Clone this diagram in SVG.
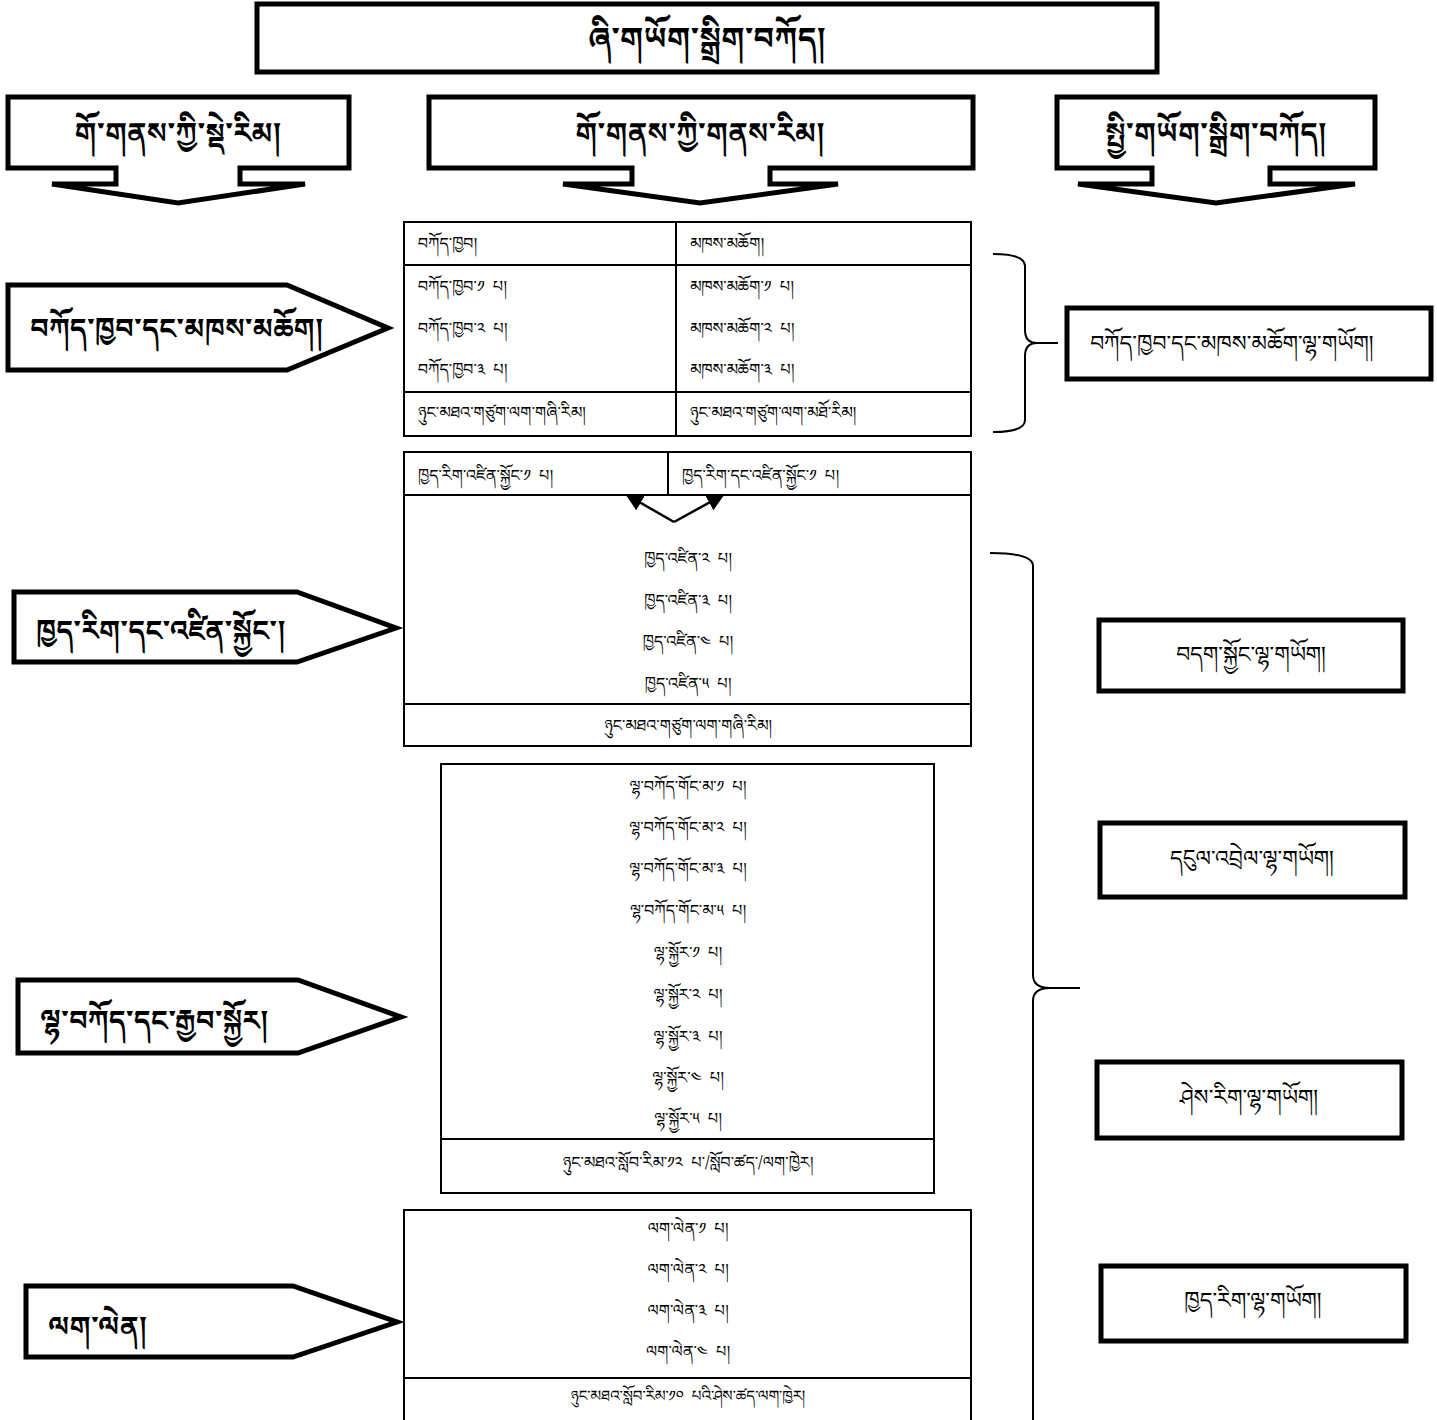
<svg xmlns="http://www.w3.org/2000/svg" width="1437" height="1420" viewBox="0 0 1437 1420">
<defs>
<style>
.bx{fill:#fff;stroke:#000;stroke-width:5}
.tb{fill:#fff;stroke:#000;stroke-width:2}
.ln{stroke:#000;stroke-width:2;fill:none}
.br{stroke:#000;stroke-width:2;fill:none}
text{font-family:"Noto Serif Tibetan","Noto Sans Tibetan","Jomolhari","Microsoft Himalaya","Noto Sans","DejaVu Sans",sans-serif;fill:#000;white-space:pre}
.t1{font-size:31px;font-weight:bold;text-anchor:middle}
.t2{font-size:29px;font-weight:bold;text-anchor:middle}
.t3{font-size:28px;font-weight:bold}
.t4{font-size:22px}
.t4c{font-size:22px;text-anchor:middle}
.s{font-size:16px}
.sc{font-size:16px;text-anchor:middle}
.sf{font-size:15px;text-anchor:middle}
</style>
<marker id="ah" viewBox="0 0 10 10" refX="9" refY="5" markerWidth="7" markerHeight="7" orient="auto-start-reverse">
<path d="M0,0 L10,5 L0,10 z" fill="#000"/>
</marker>
</defs>
<rect width="1437" height="1420" fill="#fff"/>

<g id="title">
<rect class="bx" x="257" y="4" width="900" height="68"/>
<text class="t1" x="707" y="49">ཞི་གཡོག་སྒྲིག་བཀོད།</text>
</g>

<g id="head-left">
<path class="bx" d="M8,97 H349 V168 H240 V184 H305 L178,203 L52,184 H116 V168 H8 Z"/>
<text class="t2" x="178" y="143">གོ་གནས་ཀྱི་སྡེ་རིམ།</text>
</g>
<g id="head-mid">
<path class="bx" d="M429,97 H973 V168 H770 V184 H838 L700,203 L563,184 H632 V168 H429 Z"/>
<text class="t2" x="700" y="143">གོ་གནས་ཀྱི་གནས་རིམ།</text>
</g>
<g id="head-right">
<path class="bx" d="M1057,97 H1375 V168 H1270 V184 H1355 L1216,203 L1078,184 H1152 V168 H1057 Z"/>
<text class="t2" x="1216" y="143">སྤྱི་གཡོག་སྒྲིག་བཀོད།</text>
</g>

<g id="cat-1">
<path class="bx" d="M8,285 H287 L388,328 L287,370 H8 Z"/>
<text class="t3" x="30" y="338">བཀོད་ཁྱབ་དང་མཁས་མཆོག།</text>
</g>
<g id="cat-2">
<path class="bx" d="M14,592 H297 L396,628 L297,662 H14 Z"/>
<text class="t3" x="36" y="640">ཁྱད་རིག་དང་འཛིན་སྐྱོང་།</text>
</g>
<g id="cat-3">
<path class="bx" d="M18,980 H298 L401,1017 L298,1053 H18 Z"/>
<text class="t3" x="40" y="1030">ལྷ་བཀོད་དང་རྒྱབ་སྐྱོར།</text>
</g>
<g id="cat-4">
<path class="bx" d="M26,1286 H293 L397,1322 L293,1357 H26 Z"/>
<text class="t3" x="48" y="1336">ལག་ལེན།</text>
</g>

<g id="table-1">
<rect class="tb" x="404" y="222" width="567" height="214"/>
<line class="ln" x1="404" y1="265" x2="971" y2="265"/>
<line class="ln" x1="404" y1="392" x2="971" y2="392"/>
<line class="ln" x1="676" y1="222" x2="676" y2="436"/>
<text class="s" x="418" y="249">བཀོད་ཁྱབ།</text>
<text class="s" x="690" y="249">མཁས་མཆོག།</text>
<text class="s" x="418" y="292">བཀོད་ཁྱབ་༡  པ།</text>
<text class="s" x="418" y="334">བཀོད་ཁྱབ་༢  པ།</text>
<text class="s" x="418" y="375">བཀོད་ཁྱབ་༣  པ།</text>
<text class="s" x="690" y="292">མཁས་མཆོག་༡  པ།</text>
<text class="s" x="690" y="334">མཁས་མཆོག་༢  པ།</text>
<text class="s" x="690" y="375">མཁས་མཆོག་༣  པ།</text>
<text class="s" x="418" y="418">ཉུང་མཐའ་གཙུག་ལག་གཞི་རིམ།</text>
<text class="s" x="690" y="418">ཉུང་མཐའ་གཙུག་ལག་མཐོ་རིམ།</text>
</g>

<g id="table-2">
<rect class="tb" x="404" y="452" width="567" height="294"/>
<line class="ln" x1="404" y1="495" x2="971" y2="495"/>
<line class="ln" x1="404" y1="704" x2="971" y2="704"/>
<line class="ln" x1="668" y1="452" x2="668" y2="495"/>
<text class="s" x="418" y="481">ཁྱད་རིག་འཛིན་སྐྱོང་༡  པ།</text>
<text class="s" x="682" y="481">ཁྱད་རིག་དང་འཛིན་སྐྱོང་༡  པ།</text>
<text class="sc" x="688" y="564">ཁྱད་འཛིན་༢  པ།</text>
<text class="sc" x="688" y="606">ཁྱད་འཛིན་༣  པ།</text>
<text class="sc" x="688" y="647">ཁྱད་འཛིན་༤  པ།</text>
<text class="sc" x="688" y="689">ཁྱད་འཛིན་༥  པ།</text>
<text class="sc" x="688" y="731">ཉུང་མཐའ་གཙུག་ལག་གཞི་རིམ།</text>
</g>

<g id="table-3">
<rect class="tb" x="441" y="764" width="493" height="429"/>
<line class="ln" x1="441" y1="1139" x2="934" y2="1139"/>
<text class="sc" x="688" y="792">ལྷ་བཀོད་གོང་མ་༡  པ།</text>
<text class="sc" x="688" y="833">ལྷ་བཀོད་གོང་མ་༢  པ།</text>
<text class="sc" x="688" y="874">ལྷ་བཀོད་གོང་མ་༣  པ།</text>
<text class="sc" x="688" y="916">ལྷ་བཀོད་གོང་མ་༥  པ།</text>
<text class="sc" x="688" y="958">ལྷ་སྐྱོར་༡  པ།</text>
<text class="sc" x="688" y="1000">ལྷ་སྐྱོར་༢  པ།</text>
<text class="sc" x="688" y="1042">ལྷ་སྐྱོར་༣  པ།</text>
<text class="sc" x="688" y="1083">ལྷ་སྐྱོར་༤  པ།</text>
<text class="sc" x="688" y="1124">ལྷ་སྐྱོར་༥  པ།</text>
<text class="sc" x="688" y="1168">ཉུང་མཐའ་སློབ་རིམ་༡༢  པ་/སློབ་ཚད་/ལག་ཁྱེར།</text>
</g>

<g id="table-4">
<rect class="tb" x="404" y="1210" width="567" height="214"/>
<line class="ln" x1="404" y1="1378" x2="971" y2="1378"/>
<text class="sc" x="688" y="1234">ལག་ལེན་༡  པ།</text>
<text class="sc" x="688" y="1275">ལག་ལེན་༢  པ།</text>
<text class="sc" x="688" y="1316">ལག་ལེན་༣  པ།</text>
<text class="sc" x="688" y="1357">ལག་ལེན་༤  པ།</text>
<text class="sf" x="688" y="1401">ཉུང་མཐའ་སློབ་རིམ་༡༠  པའི་ཤེས་ཚད་ལག་ཁྱེར།</text>
</g>

<g id="right-1">
<rect class="bx" x="1067" y="308" width="364" height="71"/>
<text class="t4" x="1090" y="351">བཀོད་ཁྱབ་དང་མཁས་མཆོག་ལྷ་གཡོག།</text>
</g>
<g id="right-2">
<rect class="bx" x="1099" y="620" width="304" height="71"/>
<text class="t4c" x="1251" y="662">བདག་སྐྱོང་ལྷ་གཡོག།</text>
</g>
<g id="right-3">
<rect class="bx" x="1100" y="823" width="305" height="74"/>
<text class="t4c" x="1252" y="866">དངུལ་འབྲེལ་ལྷ་གཡོག།</text>
</g>
<g id="right-4">
<rect class="bx" x="1097" y="1062" width="305" height="76"/>
<text class="t4c" x="1249" y="1105">ཤེས་རིག་ལྷ་གཡོག།</text>
</g>
<g id="right-5">
<rect class="bx" x="1101" y="1266" width="305" height="75"/>
<text class="t4c" x="1253" y="1308">ཁྱད་རིག་ལྷ་གཡོག།</text>
</g>

<g id="connectors">
<line x1="674" y1="522" x2="627" y2="495" stroke="#000" stroke-width="2.5" marker-end="url(#ah)"/>
<line x1="674" y1="522" x2="723" y2="495" stroke="#000" stroke-width="2.5" marker-end="url(#ah)"/>
<path class="br" d="M993,254 Q1025,254 1025,266 V330 Q1025,343 1037,343 Q1025,343 1025,356 V420 Q1025,432 993,432"/>
<line class="br" x1="1037" y1="343" x2="1058" y2="343"/>
<path class="br" d="M990,553 Q1033,553 1033,566 V975 Q1033,988 1050,988 Q1033,988 1033,1001 V1420"/>
<line class="br" x1="1050" y1="988" x2="1080" y2="988"/>
</g>
</svg>
